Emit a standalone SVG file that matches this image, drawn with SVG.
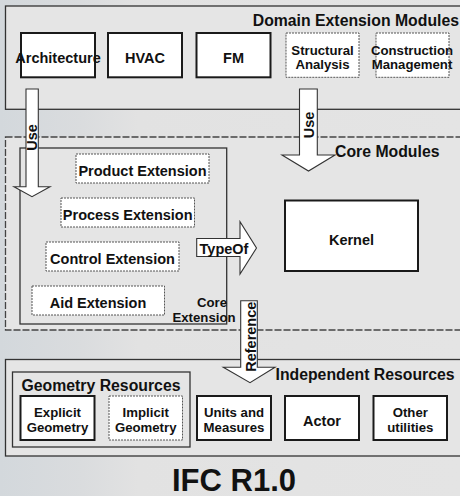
<svg xmlns="http://www.w3.org/2000/svg" width="460" height="496" viewBox="0 0 460 496">
<defs>
<linearGradient id="bg" x1="0" y1="0" x2="1" y2="0">
<stop offset="0" stop-color="#d3d8dc"/>
<stop offset="0.18" stop-color="#dadcde"/>
<stop offset="0.3" stop-color="#e2e2e2"/>
<stop offset="1" stop-color="#e4e4e4"/>
</linearGradient>
<style>
.sec{fill:#e5e5e5;stroke:#333;stroke-width:1.3}
.secd{fill:#e5e5e5;stroke:#444;stroke-width:1.3;stroke-dasharray:7 2}
.grp{fill:none;stroke:#333;stroke-width:1.3}
.n{fill:#fff;stroke:#1a1a1a;stroke-width:2}
.nd{fill:#fff;stroke:#555;stroke-width:1;stroke-dasharray:2 1}
.arr{fill:#fff;stroke:#333;stroke-width:1.1;stroke-linejoin:miter}
text{font-family:"Liberation Sans",Arial,Helvetica,sans-serif;font-weight:bold;fill:#111}
.t{font-size:14.5px;text-anchor:middle}
.t2{font-size:13.2px;text-anchor:middle}
.h{font-size:15.8px}
.big{font-size:31px;text-anchor:middle}
</style>
</defs>
<rect x="0" y="0" width="460" height="496" fill="url(#bg)"/>

<g id="domain-extension-modules">
<rect class="sec" x="5.5" y="6" width="460" height="103.3"/>
<text class="h" x="459" y="26.3" text-anchor="end">Domain Extension Modules</text>
</g>
<g id="core-modules">
<rect class="secd" x="5.5" y="137" width="460" height="193"/>
<text class="h" x="335" y="156.8">Core Modules</text>
</g>
<g id="independent-resources">
<rect class="sec" x="5.5" y="359.5" width="460" height="96.5"/>
<text class="h" x="275.5" y="379.6">Independent Resources</text>
</g>

<g id="architecture">
<rect class="n" x="21" y="33" width="74" height="44.3"/>
<text class="t" x="58" y="63">Architecture</text>
</g>
<g id="hvac">
<rect class="n" x="108" y="33" width="74" height="44.3"/>
<text class="t" x="145" y="63">HVAC</text>
</g>
<g id="fm">
<rect class="n" x="196.5" y="33" width="74" height="44.3"/>
<text class="t" x="233.5" y="63">FM</text>
</g>
<g id="structural-analysis">
<rect class="nd" x="286" y="33" width="73" height="44.3"/>
<text class="t2" x="322.5" y="54.5">Structural</text>
<text class="t2" x="322.5" y="69.3">Analysis</text>
</g>
<g id="construction-management">
<rect class="nd" x="376" y="33" width="73" height="44.3"/>
<text class="t2" x="412" y="54.5">Construction</text>
<text class="t2" x="412" y="69.3">Management</text>
</g>

<g id="core-extension">
<rect class="grp" x="20" y="148" width="206.7" height="176"/>
<text class="t2" x="212" y="307">Core</text>
<text class="t2" x="204" y="322.3">Extension</text>
</g>
<g id="product-extension">
<rect class="nd" x="76" y="154" width="133" height="29"/>
<text class="t" x="142.5" y="176">Product Extension</text>
</g>
<g id="process-extension">
<rect class="nd" x="61" y="198" width="133.5" height="29"/>
<text class="t" x="127.7" y="220.3">Process Extension</text>
</g>
<g id="control-extension">
<rect class="nd" x="46" y="242" width="133" height="29"/>
<text class="t" x="112.5" y="264.3">Control Extension</text>
</g>
<g id="aid-extension">
<rect class="nd" x="32" y="286" width="132.5" height="29"/>
<text class="t" x="98" y="308">Aid Extension</text>
</g>
<g id="kernel">
<rect class="n" x="285" y="200.5" width="133" height="70.5"/>
<text class="t" x="351.5" y="244.7">Kernel</text>
</g>

<g id="geometry-resources">
<rect class="grp" x="12.5" y="372" width="177.5" height="75"/>
<text class="h" x="101" y="391.3" text-anchor="middle">Geometry Resources</text>
</g>
<g id="explicit-geometry">
<rect class="n" x="20.5" y="396" width="74" height="44"/>
<text class="t2" x="57.5" y="417">Explicit</text>
<text class="t2" x="57.5" y="431.8">Geometry</text>
</g>
<g id="implicit-geometry">
<rect class="nd" x="109" y="396" width="73.5" height="44"/>
<text class="t2" x="145.7" y="417">Implicit</text>
<text class="t2" x="145.7" y="431.8">Geometry</text>
</g>
<g id="units-and-measures">
<rect class="n" x="197" y="396" width="74" height="44"/>
<text class="t2" x="234" y="417">Units and</text>
<text class="t2" x="234" y="431.8">Measures</text>
</g>
<g id="actor">
<rect class="n" x="285" y="396" width="74" height="44"/>
<text class="t" x="322" y="426.3">Actor</text>
</g>
<g id="other-utilities">
<rect class="n" x="373.5" y="396" width="73.5" height="44"/>
<text class="t2" x="410.3" y="417">Other</text>
<text class="t2" x="410.3" y="431.8">utilities</text>
</g>

<g id="connectors">
<path class="arr" d="M26,89 H38.3 V186.7 H50 L32,196.7 L14,186.7 H26 Z"/>
<text class="t" transform="translate(37,137.5) rotate(-90)" x="0" y="0">Use</text>
<path class="arr" d="M299.5,89 H317.3 V155 H335 L308.5,171 L282,155 H299.5 Z"/>
<text class="t" transform="translate(313.5,125) rotate(-90)" x="0" y="0">Use</text>
<path class="arr" d="M196.7,238.5 H240 V221.7 L256.5,248 L240,274 V256.5 H196.7 Z"/>
<text class="t" x="224" y="253.6">TypeOf</text>
<path class="arr" d="M240.7,300.7 H257.3 V367.3 H275 L250,382.7 L223.3,367.3 H240.7 Z"/>
<text class="t" transform="translate(256,336.7) rotate(-90)" x="0" y="0">Reference</text>
</g>

<text class="big" x="234" y="490.5">IFC R1.0</text>
</svg>
